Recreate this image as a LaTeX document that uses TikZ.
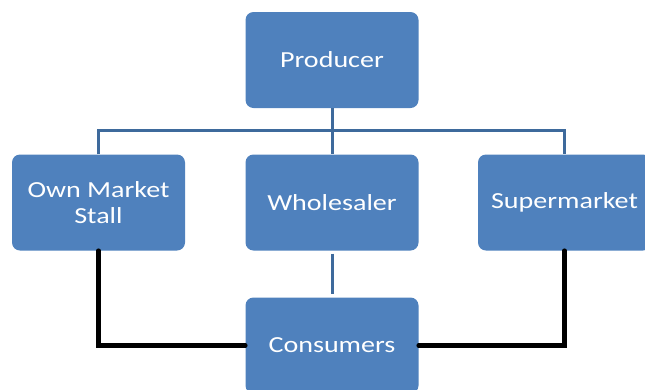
\documentclass[tikz,border=0pt]{standalone}
\usepackage{fontspec}
\setmainfont{Carlito}[FakeStretch=1.22]
\definecolor{boxblue}{RGB}{79,129,189}
\definecolor{lineblue}{RGB}{62,106,156}
\begin{document}
\begin{tikzpicture}[x=1pt,y=1pt,
  box/.style={fill=boxblue,rounded corners=8pt,minimum width=173pt,minimum height=96pt,inner sep=0pt,
    text=white,font=\fontsize{23}{26}\selectfont,align=center},
  blueline/.style={draw=lineblue,line width=3pt},
  blackline/.style={draw=black,line width=4.5pt,line cap=round,line join=miter}]
\useasboundingbox (0,0) rectangle (645,-389);
\clip (0,0) rectangle (645,-389);
\node[box] (prod) at (332,-60) {Producer};
\node[box] (own) at (98.5,-202.5) {Own Market\\Stall};
\node[box] (whole) at (332,-202.5) {Wholesaler};
\node[box] (sup) at (564.5,-202.5) {Supermarket};
\node[box] (cons) at (332,-345.5) {Consumers};
\coordinate (bus) at (332,-130);
\draw[blueline] (prod.south) -- (bus);
\draw[blueline] (own.north) |- (bus) -| (sup.north);
\draw[blueline] (bus) -- (whole.north);
\draw[blueline,shorten <=3pt,shorten >=3pt] (whole.south) -- (cons.north);
\draw[blackline] (own.south) |- (cons.west);
\draw[blackline] (sup.south) |- (cons.east);
\end{tikzpicture}
\end{document}
